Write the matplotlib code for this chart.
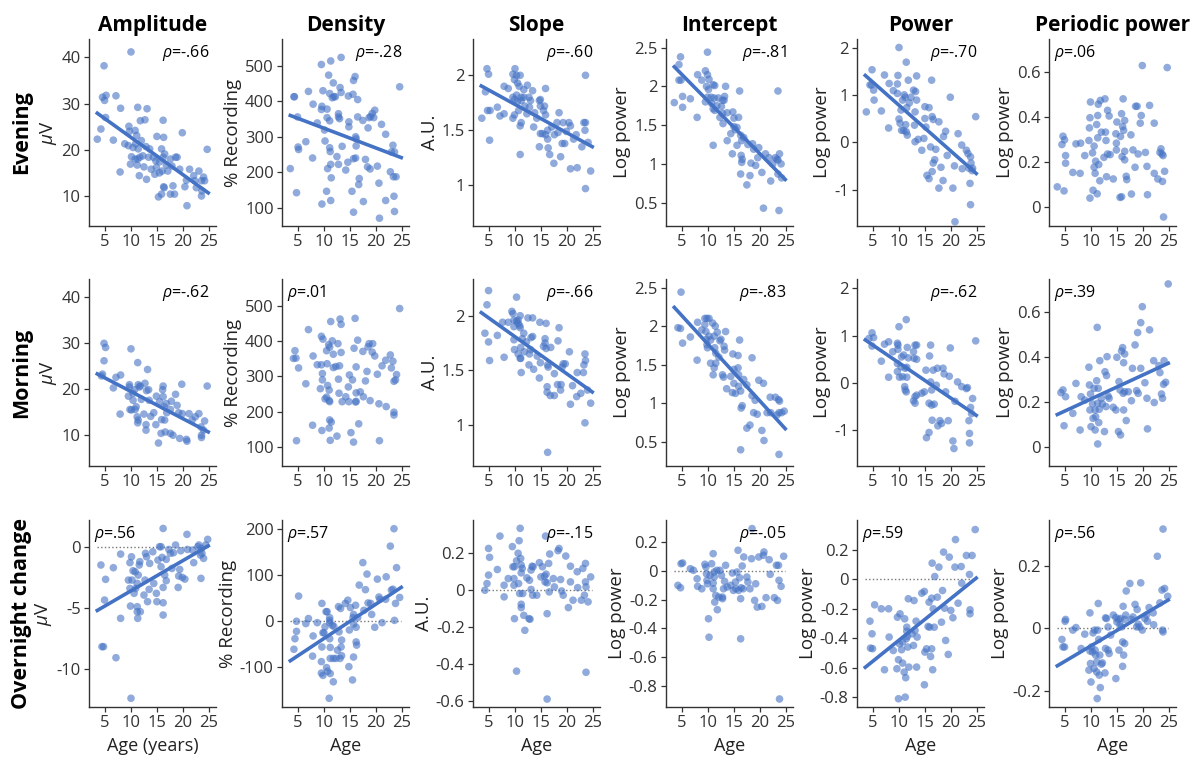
import numpy as np
import matplotlib
matplotlib.use("Agg")
import matplotlib.pyplot as plt
from matplotlib.ticker import FuncFormatter

plt.rcParams['font.family'] = ['Open Sans', 'DejaVu Sans']
plt.rcParams['mathtext.fontset'] = 'custom'
plt.rcParams['mathtext.it'] = 'Open Sans:italic'
plt.rcParams['mathtext.rm'] = 'Open Sans'
plt.rcParams['axes.unicode_minus'] = False

# ---- data: (age, value) per subject ----
eve_amp = [(10.0, 41.2), (4.8, 38.2), (4.5, 31.4), (4.9, 30.7), (5.2, 31.8), (5.1, 27.0), (7.1, 31.7), (8.0, 29.0),
           (3.5, 22.3), (4.2, 24.5), (6.6, 22.1), (7.9, 15.2), (9.6, 25.1), (9.7, 24.0), (11.3, 29.2), (13.1, 28.9),
           (11.8, 26.3), (12.7, 26.5), (16.2, 26.4), (16.3, 22.7), (15.0, 22.9), (19.9, 23.7), (24.7, 20.1),
           (8.8, 21.3), (9.5, 20.9), (10.4, 20.5), (10.9, 21.3), (11.4, 20.2), (12.0, 22.0), (11.1, 23.1),
           (10.8, 24.2), (10.1, 18.5), (10.8, 18.0), (9.9, 16.9), (11.3, 18.0), (11.7, 18.4), (12.3, 18.7),
           (12.9, 20.7), (13.6, 20.2), (13.4, 18.4), (14.3, 18.4), (13.9, 15.8), (12.5, 16.3), (11.2, 16.7),
           (11.6, 14.4), (13.0, 13.6), (14.6, 14.7), (14.9, 16.2), (14.8, 17.6), (15.5, 17.4), (15.9, 20.2),
           (16.2, 18.4), (16.5, 19.1), (16.8, 16.7), (17.1, 15.4), (16.0, 15.4), (15.5, 15.0), (17.6, 18.0),
           (18.6, 18.4), (18.9, 18.4), (17.9, 16.5), (19.4, 15.8), (16.3, 12.0), (16.4, 11.8), (15.3, 9.8),
           (15.9, 10.4), (17.6, 10.4), (18.4, 10.4), (18.1, 12.2), (20.4, 12.0), (20.7, 13.4), (20.8, 7.9),
           (21.3, 15.8), (22.1, 14.4), (23.1, 15.4), (22.3, 13.3), (22.6, 11.8), (23.6, 13.3), (24.0, 14.1),
           (23.7, 11.1), (23.6, 10.0), (24.2, 13.3)]
eve_den = [(3.5, 210), (4.2, 413), (4.3, 413), (4.7, 142), (5.0, 271), (5.1, 264), (4.9, 356), (6.5, 286), (7.0, 428),
           (7.8, 240), (7.9, 392), (8.7, 339), (9.5, 504), (9.6, 110), (9.8, 430), (9.5, 377), (9.6, 386),
           (10.1, 319), (10.2, 288), (10.5, 146), (10.6, 378), (10.6, 354), (10.7, 210), (10.9, 474), (11.1, 422),
           (11.1, 345), (11.1, 269), (11.2, 258), (11.3, 514), (11.3, 120), (11.3, 222), (11.4, 184), (11.6, 410),
           (11.9, 413), (11.8, 452), (12.2, 413), (12.5, 244), (12.8, 222), (12.8, 356), (13.0, 351), (12.8, 365),
           (13.1, 439), (13.3, 425), (13.5, 273), (13.3, 524), (14.2, 206), (14.6, 228), (14.7, 415), (14.8, 342),
           (14.8, 328), (15.4, 146), (15.6, 420), (15.7, 87), (15.7, 459), (16.0, 470), (15.7, 238), (16.1, 240),
           (16.1, 300), (16.2, 294), (16.2, 274), (16.5, 405), (16.5, 356), (16.7, 165), (16.8, 182), (17.5, 346),
           (17.6, 117), (18.0, 236), (18.4, 215), (18.5, 325), (18.9, 209), (18.7, 354), (19.0, 357), (19.3, 366),
           (19.6, 354), (19.8, 375), (20.3, 217), (20.6, 169), (21.1, 335), (20.7, 70), (21.9, 307), (21.9, 120),
           (22.8, 201), (23.3, 276), (23.0, 257), (23.4, 187), (23.9, 187), (23.6, 257), (23.5, 132), (23.6, 89),
           (24.6, 441)]
eve_slope = [(3.6, 1.61), (4.6, 2.06), (4.9, 2.01), (4.3, 1.85), (4.7, 1.68), (5.2, 1.68), (5.1, 1.41), (6.6, 1.71),
             (7.1, 1.63), (7.9, 1.65), (7.9, 1.90), (8.7, 1.88), (9.6, 2.01), (10.0, 2.06), (9.9, 1.96), (10.3, 2.0),
             (10.5, 1.93), (9.6, 1.80), (9.9, 1.78), (9.9, 1.64), (9.6, 1.61), (10.3, 1.82), (10.7, 1.68),
             (10.5, 1.76), (11.0, 2.0), (10.8, 1.90), (11.2, 1.77), (11.2, 1.80), (11.2, 1.57), (11.0, 1.54),
             (11.7, 1.87), (11.7, 1.80), (11.9, 1.72), (12.4, 1.91), (12.7, 1.80), (13.0, 1.77), (12.8, 1.71),
             (13.4, 1.86), (13.6, 1.53), (12.3, 1.65), (11.0, 1.28), (13.8, 1.66), (14.2, 1.61), (14.7, 1.77),
             (14.9, 1.78), (14.9, 1.72), (15.7, 1.72), (15.9, 1.88), (15.5, 1.68), (15.9, 1.64), (14.9, 1.47),
             (15.3, 1.47), (14.7, 1.35), (16.3, 1.42), (16.4, 1.34), (15.9, 1.46), (16.3, 1.50), (16.7, 1.28),
             (17.1, 1.53), (17.6, 1.46), (18.1, 1.57), (17.5, 1.20), (18.3, 1.48), (18.5, 1.66), (18.8, 1.26),
             (19.1, 1.38), (19.6, 1.38), (19.3, 1.57), (19.9, 1.49), (20.4, 1.57), (20.7, 1.54), (20.7, 1.15),
             (21.3, 1.42), (21.8, 1.46), (22.0, 1.16), (22.9, 1.35), (23.3, 1.57), (23.6, 1.57), (23.5, 1.50),
             (23.6, 2.0), (23.6, 0.97), (24.6, 1.13), (24.1, 1.39)]
eve_int = [(3.5, 1.79), (4.4, 2.28), (4.7, 2.38), (4.4, 2.08), (4.8, 2.08), (5.1, 1.87), (5.1, 1.73), (6.6, 1.84),
           (7.9, 1.60), (8.0, 2.15), (8.8, 2.08), (9.9, 2.44), (9.5, 2.20), (9.9, 2.15), (9.7, 2.0), (10.1, 1.96),
           (9.5, 1.80), (9.9, 1.86), (10.2, 2.09), (10.6, 1.86), (11.0, 2.02), (11.3, 2.01), (10.7, 1.78),
           (11.0, 1.71), (11.3, 1.69), (11.2, 1.85), (11.0, 1.24), (11.7, 1.75), (12.0, 1.85), (12.6, 1.74),
           (12.3, 1.60), (12.8, 1.65), (12.8, 1.82), (13.2, 1.87), (13.1, 1.82), (13.4, 2.0), (13.7, 1.66),
           (12.9, 1.52), (13.7, 1.30), (14.4, 1.39), (14.8, 1.67), (15.0, 1.59), (15.0, 1.48), (15.3, 1.44),
           (15.6, 1.47), (15.6, 1.24), (15.9, 1.60), (16.1, 1.94), (14.7, 1.13), (16.3, 1.37), (16.5, 1.30),
           (16.9, 1.34), (16.4, 1.11), (16.3, 0.87), (16.6, 1.06), (16.5, 1.02), (17.7, 1.25), (17.5, 0.73),
           (18.1, 0.85), (18.3, 1.01), (18.8, 1.19), (18.6, 1.26), (19.2, 0.98), (19.6, 1.08), (19.8, 1.21),
           (20.4, 0.89), (20.7, 0.43), (21.1, 1.13), (21.8, 1.08), (22.1, 0.78), (22.5, 1.0), (23.0, 1.08),
           (23.3, 1.06), (23.5, 1.05), (23.8, 1.13), (23.5, 0.87), (23.5, 1.94), (23.7, 0.40), (24.1, 1.0),
           (24.2, 0.82)]
eve_pow = [(3.7, 0.64), (4.8, 1.53), (4.4, 1.21), (4.7, 1.21), (5.1, 1.10), (5.2, 0.89), (6.6, 0.66), (7.2, 1.42),
           (8.0, 0.30), (8.1, 1.24), (8.9, 1.09), (9.7, 1.23), (9.8, 1.41), (10.0, 2.0), (9.7, 1.03), (10.0, 0.49),
           (10.2, 0.40), (10.4, 0.68), (10.5, 0.25), (10.9, 0.25), (10.7, 0.89), (11.0, 1.0), (11.2, 0.95),
           (11.4, 1.69), (11.5, 0.73), (11.3, 0.37), (11.6, 0.15), (11.4, 0.22), (11.8, 1.31), (12.0, 0.83),
           (12.3, 0.95), (12.8, 1.10), (13.2, 1.07), (13.1, 0.64), (13.0, 0.36), (13.4, 1.40), (13.4, 0.89),
           (13.7, 0.06), (13.1, 0.01), (14.4, -0.17), (14.8, 0.08), (15.0, 0.75), (15.0, 0.50), (15.2, 0.32),
           (15.8, 0.73), (16.3, 1.31), (16.4, 0.54), (16.6, 0.48), (16.1, -0.10), (15.4, -0.70), (15.8, -0.77),
           (16.4, -0.62), (16.6, -0.44), (16.9, -0.37), (17.1, -0.15), (17.7, 0.43), (17.7, -0.97), (18.1, -0.53),
           (18.5, -0.81), (18.6, 0.12), (19.0, 0.23), (19.3, -0.28), (19.9, 0.95), (20.4, -0.97), (20.7, -0.50),
           (20.8, -1.68), (21.4, 0.18), (22.1, -0.06), (22.2, -0.56), (23.0, -0.17), (23.3, -0.24), (23.8, -0.31),
           (23.5, -0.55), (23.7, -0.87), (23.8, -1.32), (23.9, -0.44), (24.2, -0.55), (24.8, 0.54), (24.1, -0.60)]
eve_per = [(3.5, 0.089), (4.8, 0.071), (4.4, 0.277), (4.6, 0.314), (4.9, 0.298), (5.1, 0.228), (5.1, 0.194),
           (6.5, 0.153), (7.1, 0.280), (7.9, 0.149), (8.0, 0.283), (8.8, 0.228), (9.6, 0.295), (9.7, 0.351),
           (9.8, 0.396), (9.8, 0.039), (9.9, 0.466), (10.3, 0.240), (10.4, 0.074), (10.6, 0.176), (10.6, 0.270),
           (10.8, 0.149), (10.9, 0.203), (11.1, 0.366), (11.3, 0.307), (11.3, 0.406), (11.4, 0.456), (11.2, 0.058),
           (11.5, 0.188), (11.7, 0.116), (12.0, 0.332), (11.8, 0.473), (12.5, 0.220), (12.9, 0.295), (12.8, 0.332),
           (12.7, 0.480), (13.2, 0.429), (13.5, 0.404), (13.7, 0.232), (13.2, 0.235), (13.0, 0.134), (14.3, 0.124),
           (14.8, 0.325), (14.9, 0.283), (15.0, 0.377), (14.9, 0.253), (15.6, 0.042), (15.9, 0.045), (15.9, 0.414),
           (15.7, 0.313), (16.1, 0.357), (16.2, 0.480), (16.5, 0.384), (16.3, 0.340), (16.5, 0.247), (16.0, 0.223),
           (16.5, 0.209), (16.9, 0.121), (16.8, 0.136), (17.7, 0.320), (17.8, 0.057), (18.1, 0.253), (18.6, 0.447),
           (18.9, 0.447), (18.5, 0.176), (19.1, 0.235), (19.5, 0.372), (19.7, 0.406), (19.9, 0.628), (20.5, 0.242),
           (20.8, 0.180), (20.9, 0.054), (21.3, 0.451), (22.2, 0.372), (22.2, 0.149), (22.9, 0.124), (23.3, 0.242),
           (23.5, 0.258), (23.7, 0.235), (23.8, 0.113), (23.9, 0.228), (24.0, -0.045), (24.2, 0.158), (24.7, 0.619)]

mor_amp = [(4.5, 23.3), (4.3, 22.9), (4.8, 30.0), (5.1, 29.1), (4.8, 26.2), (6.6, 20.3), (7.1, 22.6), (8.0, 23.1),
           (7.9, 14.6), (10.0, 28.8), (9.5, 18.5), (9.7, 20.5), (9.7, 21.0), (9.8, 15.6), (10.1, 15.5), (10.4, 17.6),
           (10.4, 19.1), (10.8, 15.6), (11.0, 16.2), (10.7, 19.9), (11.3, 25.8), (11.4, 21.0), (11.6, 20.5),
           (11.8, 20.7), (11.2, 14.0), (11.3, 12.7), (11.4, 13.3), (12.0, 17.8), (12.5, 14.6), (12.7, 21.3),
           (12.9, 12.3), (12.9, 11.1), (13.0, 19.7), (13.2, 24.3), (13.4, 19.9), (13.5, 17.6), (13.8, 14.1),
           (14.4, 14.9), (14.8, 12.3), (14.9, 18.5), (15.3, 8.3), (15.5, 17.3), (15.8, 10.4), (15.9, 13.4),
           (16.1, 19.9), (16.2, 20.7), (16.2, 18.4), (16.4, 16.2), (16.5, 13.3), (16.6, 10.7), (16.8, 16.9),
           (16.9, 14.9), (17.6, 15.6), (17.8, 17.4), (17.6, 10.4), (18.1, 10.0), (18.6, 18.9), (18.9, 16.5),
           (19.2, 14.9), (19.4, 9.3), (19.8, 21.1), (19.9, 14.7), (20.7, 9.1), (20.8, 8.7), (21.2, 14.7),
           (21.8, 13.3), (22.4, 14.0), (23.1, 14.7), (23.5, 11.8), (23.6, 10.0), (23.6, 9.5), (24.2, 13.1),
           (24.7, 20.7), (24.0, 11.1)]
mor_den = [(4.4, 373), (4.1, 351), (4.6, 352), (5.1, 324), (4.7, 117), (6.5, 279), (7.0, 433), (7.8, 161), (7.9, 358),
           (8.7, 333), (9.5, 333), (9.5, 414), (9.8, 406), (9.7, 308), (9.7, 290), (9.3, 265), (9.6, 146),
           (10.2, 236), (10.5, 241), (10.5, 373), (10.6, 336), (10.7, 274), (10.9, 390), (11.1, 383), (11.0, 261),
           (11.0, 231), (11.1, 228), (11.1, 176), (11.4, 170), (11.3, 456), (11.0, 153), (11.2, 118), (11.6, 401),
           (11.8, 325), (12.3, 328), (13.0, 330), (11.8, 363), (12.5, 130), (12.7, 393), (12.8, 292), (12.9, 252),
           (13.1, 463), (13.3, 448), (13.3, 368), (13.5, 228), (14.2, 242), (14.8, 228), (14.7, 270), (14.9, 304),
           (15.2, 140), (15.5, 290), (15.7, 113), (15.8, 380), (16.0, 465), (16.2, 229), (16.1, 227), (16.2, 327),
           (16.2, 253), (16.5, 403), (16.7, 165), (17.0, 256), (17.5, 371), (17.6, 242), (18.0, 287), (18.3, 314),
           (18.5, 384), (18.7, 393), (18.9, 231), (19.4, 393), (19.3, 369), (19.8, 358), (20.3, 306), (20.6, 222),
           (20.7, 117), (21.2, 330), (21.9, 346), (22.0, 214), (22.8, 361), (23.0, 324), (23.3, 343), (23.5, 286),
           (23.8, 290), (23.5, 198), (23.5, 190), (24.0, 305), (24.6, 493)]
mor_slope = [(4.2, 1.84), (4.6, 2.10), (4.9, 2.23), (4.9, 1.76), (5.1, 1.59), (6.6, 1.82), (7.9, 1.62), (7.6, 1.94),
             (8.7, 1.94), (9.4, 2.04), (9.6, 2.02), (9.8, 1.96), (10.3, 2.17), (9.8, 1.90), (9.8, 1.78), (9.9, 1.69),
             (10.3, 1.95), (10.6, 1.96), (10.6, 1.65), (10.6, 1.93), (10.9, 1.91), (11.0, 1.89), (11.0, 1.61),
             (11.1, 1.61), (11.0, 2.0), (11.1, 1.71), (11.2, 1.48), (11.4, 1.79), (11.7, 1.84), (11.8, 1.67),
             (12.2, 1.76), (12.5, 1.98), (12.7, 1.55), (12.8, 1.65), (13.0, 1.69), (13.1, 1.80), (13.4, 1.81),
             (13.4, 1.98), (13.6, 1.51), (14.3, 1.63), (14.7, 1.43), (14.8, 1.94), (14.9, 1.57), (15.5, 1.72),
             (15.8, 1.79), (15.8, 1.75), (16.0, 1.93), (16.0, 1.70), (16.2, 1.35), (16.2, 1.30), (16.3, 1.55),
             (16.4, 1.53), (16.3, 0.75), (16.8, 1.27), (16.9, 1.71), (17.6, 1.27), (17.6, 1.47), (18.2, 1.37),
             (18.3, 1.77), (18.5, 1.89), (18.8, 1.32), (18.9, 1.37), (19.1, 1.53), (19.3, 1.56), (19.7, 1.56),
             (20.5, 1.67), (20.7, 1.19), (21.1, 1.36), (21.9, 1.26), (22.0, 1.48), (22.7, 1.29), (23.2, 1.48),
             (23.3, 1.55), (23.5, 1.65), (23.6, 1.59), (23.5, 1.02), (24.0, 1.32), (24.6, 1.20)]
mor_int = [(4.2, 1.98), (4.7, 1.97), (4.8, 2.44), (5.1, 1.78), (6.6, 1.86), (7.9, 1.56), (8.0, 2.05), (8.8, 1.95),
           (9.4, 2.02), (9.4, 2.10), (9.8, 2.10), (10.2, 2.10), (9.6, 1.93), (9.7, 1.83), (9.8, 1.76), (9.9, 1.72),
           (10.2, 1.87), (10.5, 1.82), (10.9, 2.04), (11.4, 2.0), (11.2, 1.87), (10.5, 1.52), (11.0, 1.37),
           (11.2, 1.46), (11.3, 1.72), (11.5, 1.65), (11.5, 1.52), (11.8, 1.92), (12.3, 1.81), (12.5, 1.83),
           (12.1, 1.60), (12.8, 1.37), (13.0, 1.34), (13.1, 1.74), (13.2, 1.69), (13.4, 1.93), (13.6, 1.19),
           (14.4, 1.35), (14.8, 1.64), (15.0, 1.44), (15.0, 1.26), (14.7, 1.14), (15.3, 1.13), (15.8, 1.62),
           (15.8, 1.46), (15.9, 1.37), (16.1, 1.82), (15.9, 1.22), (16.3, 1.16), (16.4, 0.94), (16.6, 0.97),
           (16.3, 0.40), (16.9, 1.31), (17.5, 1.24), (17.5, 0.68), (18.1, 0.72), (18.5, 1.59), (18.5, 1.10),
           (18.8, 0.88), (19.1, 1.04), (19.5, 0.86), (19.8, 1.30), (20.7, 1.26), (20.4, 0.65), (20.8, 0.52),
           (21.4, 0.88), (22.0, 1.08), (22.1, 0.88), (23.0, 1.08), (23.6, 1.05), (23.8, 1.03), (23.7, 0.88),
           (23.7, 0.34), (23.3, 0.85), (24.2, 0.88), (24.7, 0.90)]
mor_pow = [(4.2, 0.94), (4.8, 1.06), (5.1, 0.96), (4.8, 0.78), (6.6, 0.46), (7.2, 0.82), (8.0, 0.87), (8.0, 0.12),
           (8.8, 0.66), (9.7, 0.84), (9.8, 0.80), (10.0, 1.19), (9.7, 0.41), (9.8, 0.71), (9.7, 0.24), (10.1, 0.12),
           (10.4, 0.34), (10.5, 0.55), (10.7, 0.13), (10.9, 0.59), (11.1, -0.08), (11.2, -0.15), (11.2, 0.31),
           (11.4, 1.34), (11.5, 0.33), (11.6, 0.75), (11.4, -0.19), (11.8, 0.53), (11.5, 0.12), (12.8, 0.66),
           (12.9, 0.52), (13.1, 0.80), (13.4, 0.80), (13.1, -0.29), (12.8, -0.38), (13.1, -0.43), (13.4, 0.50),
           (13.4, -0.26), (14.4, -0.22), (14.9, -0.19), (15.2, 0.27), (15.3, -1.16), (15.8, -1.05), (15.8, -0.43),
           (15.9, 0.57), (16.1, 0.02), (16.1, 0.80), (16.3, -0.15), (16.3, -0.47), (16.4, -0.79), (16.6, 0.27),
           (16.8, -0.45), (17.2, -0.05), (17.4, 0.31), (17.5, -0.91), (17.9, -0.80), (18.2, -0.86), (18.5, 0.31),
           (18.7, 0.19), (19.0, -0.19), (19.5, -0.80), (19.7, 0.14), (19.9, 0.74), (20.4, -1.23), (20.6, -1.39),
           (20.8, -0.39), (21.3, 0.02), (22.1, -0.08), (23.0, -0.12), (23.2, -0.10), (23.5, -0.80), (23.8, -0.52),
           (23.6, -1.07), (23.6, -1.27), (24.0, -0.65), (24.2, -0.33), (24.8, 0.89)]
mor_per = [(4.6, 0.252), (4.2, 0.240), (5.1, 0.222), (4.8, 0.093), (6.5, 0.148), (7.1, 0.281), (7.9, 0.074),
           (8.1, 0.222), (8.8, 0.207), (9.6, 0.353), (9.7, 0.274), (9.8, 0.163), (9.9, 0.234), (10.0, 0.089),
           (10.3, 0.190), (10.4, 0.126), (10.6, 0.259), (10.8, 0.074), (10.8, 0.163), (10.9, 0.133), (11.1, 0.293),
           (11.2, 0.530), (11.3, 0.012), (11.3, 0.193), (11.4, 0.259), (11.5, 0.107), (11.6, 0.166), (11.7, 0.382),
           (12.0, 0.215), (12.2, 0.190), (12.6, 0.067), (12.7, 0.333), (12.9, 0.178), (13.0, 0.316), (13.1, 0.400),
           (13.3, 0.225), (13.5, 0.215), (14.3, 0.175), (14.8, 0.163), (15.0, 0.397), (15.3, 0.067), (15.4, 0.289),
           (15.6, 0.252), (15.7, 0.052), (15.9, 0.425), (16.1, 0.440), (16.2, 0.237), (16.3, 0.373), (16.5, 0.412),
           (16.5, 0.244), (16.3, 0.163), (16.8, 0.116), (17.2, 0.244), (17.8, 0.204), (18.0, 0.348), (18.5, 0.452),
           (18.8, 0.249), (19.0, 0.507), (19.1, 0.237), (19.6, 0.348), (19.6, 0.551), (19.9, 0.622), (20.4, 0.284),
           (20.8, 0.215), (20.9, 0.079), (21.3, 0.519), (22.1, 0.382), (22.2, 0.196), (23.1, 0.360), (23.3, 0.329),
           (23.6, 0.234), (23.8, 0.215), (24.0, 0.277), (24.1, 0.382), (24.4, 0.286), (24.9, 0.723)]

ovn_amp = [(4.2, -1.49), (4.9, -4.35), (5.1, -2.66), (4.4, -8.15), (4.7, -8.15), (6.6, -1.71), (7.1, -9.05),
           (8.0, -0.60), (8.0, -5.84), (9.5, -2.72), (9.8, -1.30), (9.9, -4.84), (10.0, -12.36), (9.8, -3.40),
           (10.1, -0.82), (10.2, -2.72), (10.4, -1.96), (10.8, -2.04), (10.6, -3.80), (10.9, -3.40), (11.2, -2.99),
           (11.2, -4.89), (11.2, -5.30), (11.4, -2.31), (11.3, -5.84), (11.6, -1.49), (11.7, -1.22), (11.8, -5.30),
           (12.5, -3.94), (12.7, -2.72), (12.8, -0.54), (13.0, -0.82), (13.2, -4.48), (13.5, -3.48), (13.6, -1.36),
           (14.2, -0.41), (14.4, -2.99), (14.9, -3.80), (15.0, -4.48), (15.2, -1.09), (15.5, 0.0), (15.8, 0.0),
           (15.8, -1.63), (16.0, -0.87), (16.2, 1.49), (16.2, -3.32), (16.2, -4.57), (16.2, -5.57), (16.5, -2.31),
           (16.8, -1.03), (16.8, -2.77), (17.3, -0.22), (17.6, -0.54), (17.9, -1.77), (18.2, -0.49), (18.6, 0.14),
           (19.1, -3.32), (19.2, -2.39), (19.4, -1.85), (19.6, -0.33), (19.9, -2.50), (20.4, -2.64), (20.8, 1.01),
           (20.9, -0.22), (21.9, -0.27), (22.1, -1.30), (22.9, 0.0), (23.1, 0.14), (23.4, -0.68), (23.6, -0.14),
           (23.7, -0.54), (23.5, -2.58), (24.0, -0.95), (24.4, 0.14), (24.8, 0.60)]
ovn_den = [(5.1, 54), (4.7, -1), (4.7, -23), (4.4, -39), (4.2, -62), (6.5, -6), (7.0, 5), (7.9, -33), (8.7, -4),
           (7.8, -77), (9.6, 38), (9.5, -89), (9.8, -119), (9.5, -114), (9.6, -57), (9.8, -26), (10.0, -26),
           (10.2, -13), (10.4, 20), (10.6, 20), (10.5, -102), (10.7, -110), (11.1, 7), (11.1, 1), (11.1, -4),
           (11.1, -39), (11.2, -58), (11.2, -82), (11.2, -115), (11.6, -10), (11.9, -12), (11.8, -82), (11.8, -133),
           (11.0, -169), (12.3, -82), (12.8, 31), (13.2, 27), (12.9, -24), (12.6, -64), (13.1, -82), (13.3, -57),
           (13.4, -42), (13.4, -76), (14.1, 38), (14.6, 45), (14.9, -20), (14.8, -100), (15.1, 29), (15.5, -129),
           (15.6, 7), (15.7, -7), (15.7, 14), (15.7, -79), (16.1, 34), (16.2, -46), (16.3, -53), (16.5, 7),
           (16.2, -14), (16.8, 78), (17.5, 127), (17.7, 23), (18.0, 68), (18.3, 102), (18.5, 39), (19.0, 38),
           (19.2, 14), (19.8, -14), (20.3, 91), (20.6, 52), (20.8, 47), (21.2, -4), (21.9, 47), (22.0, 96),
           (22.8, 163), (23.0, 67), (23.3, 69), (23.5, 201), (23.6, 1), (23.8, 38), (24.0, 116), (24.6, 51)]
ovn_slope = [(4.2, 0.0), (4.6, 0.036), (4.9, 0.226), (5.1, 0.178), (4.9, 0.082), (6.6, 0.112), (7.1, 0.293),
             (7.9, -0.036), (7.9, 0.027), (8.7, 0.063), (9.5, 0.236), (9.6, 0.127), (9.9, 0.127), (9.8, 0.027),
             (9.8, 0.063), (9.9, -0.154), (10.3, -0.438), (10.3, 0.159), (10.6, 0.200), (10.7, 0.036), (10.8, 0.268),
             (10.9, -0.018), (11.0, 0.335), (11.2, 0.094), (11.2, 0.136), (11.1, 0.172), (11.2, -0.076),
             (11.2, -0.094), (11.4, 0.118), (11.5, -0.018), (11.7, -0.136), (11.9, -0.217), (12.3, 0.067),
             (12.7, -0.154), (12.9, -0.157), (12.8, 0.054), (13.1, 0.004), (13.1, 0.109), (13.3, 0.130),
             (13.5, 0.127), (13.4, -0.027), (14.2, -0.027), (14.7, 0.149), (15.0, 0.072), (15.3, 0.127),
             (15.7, 0.076), (15.8, 0.045), (15.9, 0.293), (16.0, 0.087), (16.2, -0.127), (16.2, 0.040),
             (16.2, -0.589), (16.5, 0.145), (16.6, -0.009), (16.7, 0.196), (17.4, 0.063), (17.6, 0.018),
             (18.3, 0.214), (18.5, 0.226), (18.8, 0.058), (19.0, -0.004), (19.3, -0.027), (19.8, 0.185),
             (20.3, -0.094), (20.7, 0.130), (20.7, 0.045), (21.2, -0.054), (22.0, 0.100), (22.1, 0.014),
             (22.8, -0.054), (23.1, 0.118), (23.4, -0.027), (23.6, 0.145), (23.6, 0.045), (23.7, -0.444),
             (23.7, 0.018), (24.1, -0.063), (24.6, 0.072)]
ovn_int = [(4.2, -0.100), (4.7, -0.117), (4.8, 0.051), (5.1, 0.056), (6.6, 0.016), (7.2, 0.005), (7.9, -0.054),
           (8.0, -0.107), (8.8, -0.124), (9.4, 0.047), (9.6, 0.028), (9.7, -0.019), (9.8, -0.065), (9.9, -0.089),
           (10.1, -0.333), (10.2, -0.462), (10.4, -0.030), (10.7, 0.051), (11.0, 0.121), (11.0, -0.084),
           (11.0, -0.124), (11.2, -0.007), (11.2, -0.042), (11.3, -0.217), (11.5, -0.170), (11.7, 0.005),
           (11.8, -0.270), (12.1, -0.182), (12.3, 0.005), (12.6, -0.030), (12.8, -0.182), (12.8, -0.193),
           (13.0, -0.124), (13.2, -0.072), (13.4, 0.040), (13.7, -0.112), (14.4, -0.100), (14.7, -0.014),
           (14.9, -0.135), (15.3, -0.077), (15.4, -0.124), (15.6, -0.007), (15.8, 0.145), (15.9, -0.135),
           (16.1, -0.047), (16.3, -0.193), (16.3, -0.473), (16.4, -0.117), (16.6, 0.035), (16.8, -0.124),
           (16.9, 0.098), (17.5, -0.042), (17.7, -0.077), (18.1, -0.124), (18.4, 0.086), (18.5, 0.296),
           (19.0, -0.205), (19.2, -0.089), (19.5, -0.252), (19.8, 0.098), (20.4, -0.247), (20.7, 0.110),
           (20.8, 0.133), (21.2, -0.186), (21.8, 0.079), (22.0, -0.023), (22.8, -0.186), (23.2, 0.040),
           (23.4, -0.205), (23.6, 0.040), (23.7, -0.065), (23.8, -0.893), (24.1, -0.107), (24.6, 0.103)]
ovn_pow = [(4.4, -0.283), (4.8, -0.369), (4.5, -0.466), (4.9, -0.470), (5.3, -0.172), (6.6, -0.199), (7.2, -0.613),
           (8.0, -0.199), (8.1, -0.391), (8.9, -0.482), (9.6, -0.606), (9.7, -0.256), (9.9, -0.810), (9.9, -0.545),
           (10.1, -0.437), (10.2, -0.233), (10.5, -0.477), (10.7, -0.568), (10.7, -0.425), (11.0, -0.629),
           (11.1, -0.267), (11.2, -0.799), (11.3, -0.667), (11.4, -0.403), (11.5, -0.351), (11.5, -0.324),
           (11.6, -0.387), (11.7, -0.459), (11.8, -0.131), (11.9, -0.595), (12.5, -0.369), (12.8, -0.448),
           (12.9, -0.143), (13.1, -0.346), (13.3, -0.283), (13.4, -0.595), (13.5, -0.391), (14.4, -0.093),
           (14.9, -0.715), (14.9, -0.081), (15.0, -0.493), (15.3, -0.471), (15.6, -0.319), (15.8, -0.154),
           (15.9, -0.324), (16.1, -0.523), (16.3, -0.471), (16.3, -0.127), (16.4, 0.111), (16.5, -0.613),
           (16.6, -0.199), (16.8, -0.324), (16.9, 0.020), (17.4, -0.120), (17.7, 0.084), (18.2, -0.290),
           (18.4, -0.075), (18.6, 0.186), (18.8, -0.195), (19.0, -0.414), (19.5, -0.509), (19.7, 0.152),
           (20.0, -0.210), (20.4, -0.260), (20.8, 0.084), (20.9, 0.271), (21.4, -0.161), (22.0, 0.088),
           (22.1, -0.025), (23.0, 0.163), (23.6, 0.034), (23.7, -0.206), (23.7, -0.233), (24.1, 0.163),
           (24.7, 0.339)]
ovn_per = [(4.4, -0.036), (4.6, -0.060), (4.9, -0.060), (5.0, 0.022), (5.1, 0.028), (6.5, -0.006), (7.1, 0.002),
           (8.1, -0.065), (8.8, -0.019), (9.6, -0.134), (9.8, -0.073), (9.8, 0.049), (9.9, -0.113), (10.0, -0.172),
           (10.1, -0.060), (10.3, -0.076), (10.4, -0.015), (10.6, -0.129), (10.7, -0.006), (10.8, -0.070),
           (10.9, -0.086), (11.1, -0.140), (11.1, -0.108), (11.2, -0.225), (11.3, -0.006), (11.4, 0.079),
           (11.5, -0.036), (11.6, -0.150), (11.7, -0.086), (11.8, -0.190), (12.0, -0.115), (12.2, -0.111),
           (12.7, -0.143), (12.8, 0.033), (12.8, -0.065), (13.0, 0.031), (13.3, 0.004), (13.3, -0.070),
           (13.5, -0.081), (13.8, -0.022), (14.3, 0.042), (14.8, 0.034), (14.8, -0.161), (15.0, 0.020),
           (15.3, 0.028), (15.4, -0.070), (15.6, 0.010), (15.7, 0.031), (15.9, 0.004), (16.1, -0.044),
           (16.1, -0.122), (16.2, 0.070), (16.3, -0.086), (16.5, -0.049), (16.5, 0.028), (16.7, 0.042),
           (16.8, 0.119), (17.5, 0.143), (17.8, 0.028), (18.1, 0.036), (18.5, 0.076), (18.8, 0.004), (18.9, 0.060),
           (19.1, 0.013), (19.4, 0.004), (19.6, 0.145), (19.9, -0.006), (20.4, 0.031), (20.7, 0.042), (20.9, 0.022),
           (21.2, 0.066), (22.0, 0.049), (22.1, 0.011), (22.8, 0.230), (23.3, 0.081), (23.7, 0.122), (23.8, -0.006),
           (23.9, -0.012), (23.9, 0.317), (24.2, 0.127), (24.8, 0.102)]

panel_data = [
    [eve_amp, eve_den, eve_slope, eve_int, eve_pow, eve_per],
    [mor_amp, mor_den, mor_slope, mor_int, mor_pow, mor_per],
    [ovn_amp, ovn_den, ovn_slope, ovn_int, ovn_pow, ovn_per],
]
rho = [
    [-.66, -.28, -.60, -.81, -.70, .06],
    [-.62, .01, -.66, -.83, -.62, .39],
    [.56, .57, -.15, -.05, .59, .56],
]
show_fit = [
    [True, True, True, True, True, False],
    [True, False, True, True, True, True],
    [True, True, False, False, True, True],
]
col_titles = ['Amplitude', 'Density', 'Slope', 'Intercept', 'Power', 'Periodic power']
row_titles = ['Evening', 'Morning', 'Overnight change']
y_units = ['$\\mu$V', '% Recording', 'A.U.', 'Log power', 'Log power', 'Log power']
y_ticks = [
    [[10, 20, 30, 40], [100, 200, 300, 400, 500], [1, 1.5, 2], [0.5, 1, 1.5, 2, 2.5], [-1, 0, 1, 2], [0, 0.2, 0.4, 0.6]],
    [[10, 20, 30, 40], [100, 200, 300, 400, 500], [1, 1.5, 2], [0.5, 1, 1.5, 2, 2.5], [-1, 0, 1, 2], [0, 0.2, 0.4, 0.6]],
    [[-10, -5, 0], [-100, 0, 100, 200], [-0.6, -0.4, -0.2, 0, 0.2], [-0.8, -0.6, -0.4, -0.2, 0, 0.2],
     [-0.8, -0.6, -0.4, -0.2, 0, 0.2], [-0.2, 0, 0.2]],
]
y_lims = [
    [(3.5, 44), (48, 576), (0.63, 2.33), (0.2, 2.61), (-1.77, 2.18), (-0.085, 0.746)],
    [(3.3, 44), (45, 577), (0.625, 2.336), (0.19, 2.61), (-1.76, 2.2), (-0.086, 0.745)],
    [(-13.07, 2.18), (-188, 220), (-0.632, 0.38), (-0.949, 0.356), (-0.866, 0.404), (-0.252, 0.346)],
]
age_ticks = [5, 10, 15, 20, 25]

# ---- layout (pixel boxes of the reference) ----
W, H = 1199, 760
col_left = [89, 282, 473, 666, 857, 1049]
row_top = [39, 279, 520]
ax_w, ax_h = 127, 187

point_color = '#4472C4'
line_color = '#4472C4'
text_color = '#222222'

# fit lines and zero lines span the age range of the whole sample
all_ages = np.concatenate([np.array(p)[:, 0] for row in panel_data for p in row])
age_span = np.array([all_ages.min(), all_ages.max()])

fig = plt.figure(figsize=(W / 100, H / 100), dpi=100)
fmt = FuncFormatter(lambda v, p: ('%g' % v))

for r in range(3):
    for c in range(6):
        ax = fig.add_axes([col_left[c] / W, 1 - (row_top[r] + ax_h) / H, ax_w / W, ax_h / H])
        pts = np.array(panel_data[r][c])
        age, val = pts[:, 0], pts[:, 1]
        ax.scatter(age, val, s=30, color=point_color, alpha=0.6, edgecolors='none', zorder=2)
        if r == 2:
            ax.hlines(0, age_span[0], age_span[1], colors='#777777', linestyles=':', linewidth=1, zorder=1)
        if show_fit[r][c]:
            k, b = np.polyfit(age, val, 1)
            ax.plot(age_span, k * age_span + b, color=line_color, lw=2.6, zorder=3)

        ax.set_xlim(1.9, 26.4)
        ax.set_ylim(*y_lims[r][c])
        ax.set_xticks(age_ticks)
        ax.set_yticks(y_ticks[r][c])
        ax.yaxis.set_major_formatter(fmt)
        for s in ['top', 'right']:
            ax.spines[s].set_visible(False)
        for s in ['left', 'bottom']:
            ax.spines[s].set_color('#333333')
            ax.spines[s].set_linewidth(1.0)
        ax.tick_params(labelsize=12, colors='#333333', length=3.5, width=0.9, pad=2.5)
        ax.set_ylabel(y_units[c], fontsize=13.5, color=text_color, labelpad=2)

        rtxt = ('%.2f' % rho[r][c]).replace('0.', '.')
        if rho[r][c] < 0:
            ax.text(0.95, 0.98, '$\\rho$=' + rtxt, transform=ax.transAxes, ha='right', va='top',
                    fontsize=11.5, color='black')
        else:
            ax.text(0.04, 0.98, '$\\rho$=' + rtxt, transform=ax.transAxes, ha='left', va='top',
                    fontsize=11.5, color='black')

        if r == 0:
            ax.set_title(col_titles[c], fontsize=15, fontweight='bold', pad=6)
        if r == 2:
            ax.set_xlabel('Age (years)' if c == 0 else 'Age', fontsize=13, color=text_color, labelpad=4)

for r in range(3):
    yc = 1 - (row_top[r] + ax_h / 2) / H
    fig.text(22 / W, yc, row_titles[r], rotation=90, ha='center', va='center', fontsize=15.5, fontweight='bold')

fig.savefig('out.png', dpi=100)
